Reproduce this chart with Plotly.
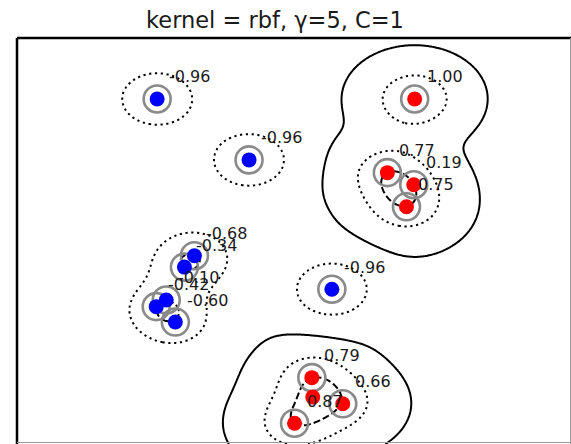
import numpy as np
import plotly.graph_objects as go

# ---- data (support vectors, dual coefficients, model parameters) ----
blue_x = [1.54, 2.55, 3.46, 1.95, 1.84, 1.64, 1.53, 1.74]
blue_y = [5.15, 4.24, 2.31, 2.81, 2.64, 2.15, 2.05, 1.82]
blue_coef = [-0.96, -0.96, -0.96, -0.68, -0.34, -0.10, -0.42, -0.60]

red_x = [4.37, 4.07, 4.36, 4.28, 3.24, 3.58, 3.05]
red_y = [5.15, 4.05, 3.87, 3.54, 0.99, 0.60, 0.31]
red_coef = [1.00, 0.77, 0.19, 0.75, 0.79, 0.66, 0.87]

other_red_x = [3.25]
other_red_y = [0.70]

gamma = 5
intercept = -0.04
x_range = [0, 554 / 91]
y_range = [0, 406 / 67]
title = "kernel = rbf, γ=5, C=1"

# ---- decision function of the RBF model ----
sv_x = np.array(blue_x + red_x)
sv_y = np.array(blue_y + red_y)
coef = np.array(blue_coef + red_coef)
gx = np.linspace(x_range[0], x_range[1], 360)
gy = np.linspace(y_range[0], y_range[1], 360)
XX, YY = np.meshgrid(gx, gy)
Z = np.full(XX.shape, intercept, dtype=float)
for sx, sy, c in zip(sv_x, sv_y, coef):
    Z += c * np.exp(-gamma * ((XX - sx) ** 2 + (YY - sy) ** 2))

fig = go.Figure()
black = [[0, "black"], [1, "black"]]


def add_contour(start, end, size, dash):
    fig.add_trace(go.Contour(
        x=gx, y=gy, z=Z, autocontour=False,
        contours=dict(start=start, end=end, size=size, coloring="lines"),
        colorscale=black, showscale=False, hoverinfo="skip",
        line=dict(color="black", width=2, dash=dash, smoothing=1.0),
    ))


add_contour(-0.5, 0.5, 1, "2.2px,3.6px")
add_contour(-1, 1, 2, "7px,3px")
add_contour(0, 0, 1, "solid")

# support-vector rings
fig.add_trace(go.Scatter(x=list(sv_x), y=list(sv_y), mode="markers",
                         marker=dict(symbol="circle-open", size=27, color="#8a8a8a",
                                     line=dict(width=2.6, color="#8a8a8a")),
                         hoverinfo="skip"))
# points
fig.add_trace(go.Scatter(x=blue_x, y=blue_y, mode="markers",
                         marker=dict(color="blue", size=15), hoverinfo="skip"))
fig.add_trace(go.Scatter(x=red_x + other_red_x, y=red_y + other_red_y, mode="markers",
                         marker=dict(color="red", size=15), hoverinfo="skip"))

# coefficient labels
for sx, sy, c in zip(sv_x, sv_y, coef):
    fig.add_annotation(x=sx, y=sy, text=f"{c:.2f}", showarrow=False,
                       xanchor="left", yanchor="middle", xshift=10, yshift=22,
                       font=dict(family="DejaVu Sans", size=16, color="#1a1a1a"))

# frame
fig.add_shape(type="line", xref="paper", yref="paper", x0=0, x1=0, y0=0, y1=1,
              line=dict(color="black", width=2.5))
fig.add_shape(type="line", xref="paper", yref="paper", x0=0, x1=1, y0=1, y1=1,
              line=dict(color="black", width=2.5))
fig.add_shape(type="line", xref="paper", yref="paper", x0=553.5 / 554, x1=553.5 / 554,
              y0=0, y1=1, line=dict(color="#999999", width=1))
fig.add_shape(type="line", xref="paper", yref="paper", x0=0, x1=1,
              y0=1.5 / 406, y1=1.5 / 406, line=dict(color="#999999", width=1))

fig.update_layout(
    width=571, height=444,
    margin=dict(l=17, r=0, t=38, b=0, autoexpand=False),
    paper_bgcolor="white", plot_bgcolor="white",
    showlegend=False,
    title=dict(text=title, x=275 / 571, xanchor="center", y=1 - 20 / 444, yanchor="middle",
               font=dict(family="DejaVu Sans", size=22.5, color="#1a1a1a")),
    xaxis=dict(range=x_range, visible=False),
    yaxis=dict(range=y_range, visible=False),
)
fig.write_html("out.html",
               config={"displayModeBar": False, "staticPlot": True},
               post_script="document.body.style.margin='0';"
                           "document.body.style.overflow='hidden';")
